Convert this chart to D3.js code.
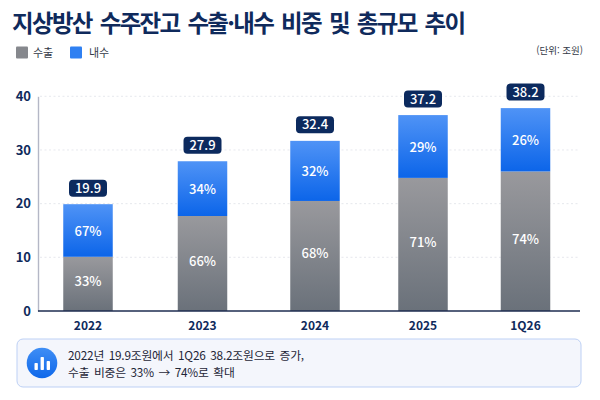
<!DOCTYPE html>
<html lang="ko"><head><meta charset="utf-8">
<script src="https://cdn.jsdelivr.net/npm/d3@7"></script>
<style>html,body{margin:0;padding:0;background:#fff}svg{display:block}text{font-family:"Noto Sans CJK KR","Noto Sans",sans-serif}</style>
</head><body><svg id="c" width="600" height="400"></svg>
<script>
const categories=["2022","2023","2024","2025","1Q26"];
const exportValues=[10.1,17.7,20.5,24.8,26.0];
const domesticValues=[9.8,10.2,11.2,11.7,11.8];
const totalLabels=["19.9","27.9","32.4","37.2","38.2"];
const exportShares=["33%","66%","68%","71%","74%"];
const domesticShares=["67%","34%","32%","29%","26%"];
const yTicks=[0,10,20,30,40];
const seriesNames=["수출","내수"];
const titleText="지상방산 수주잔고 수출·내수 비중 및 총규모 추이";
const unitText="(단위: 조원)";
const noteLines=["2022년 19.9조원에서 1Q26 38.2조원으로 증가,","수출 비중은 33% → 74%로 확대"];
const barCenters=[88,202.5,315,423,525.5];

const navy="#0f2a5c";
const svg=d3.select("#c");
const defs=svg.append("defs");
function grad(id,a,b){const g=defs.append("linearGradient").attr("id",id).attr("x1",0).attr("y1",0).attr("x2",0).attr("y2",1);
 g.append("stop").attr("offset",0).attr("stop-color",a);g.append("stop").attr("offset",1).attr("stop-color",b);}
grad("gBlue","#4f93f6","#0c65e9");grad("gGray","#99999d","#6a717a");grad("gIcon","#3f8ef5","#0f68ea");

const x=d3.scaleOrdinal().domain(categories).range(barCenters);
const y=d3.scaleLinear().domain([0,40]).range([311,96.3]);
const barW=49.5;

svg.append("text").attr("x",12).attr("y",32).attr("font-size",23.5).attr("font-weight",700).attr("fill",navy)
 .attr("letter-spacing",-1.67).attr("word-spacing",3).text(titleText);

const legend=[[16,"#86888d",33],[70,"#2f80f2",89]];
legend.forEach((l,i)=>{
 svg.append("rect").attr("x",l[0]).attr("y",46.5).attr("width",12).attr("height",12).attr("rx",1).attr("fill",l[1]);
 svg.append("text").attr("x",l[2]).attr("y",57).attr("font-size",11).attr("fill","#333a48").text(seriesNames[i]);
});
svg.append("text").attr("x",583).attr("y",54).attr("text-anchor","end").attr("font-size",9.5).attr("fill","#333a48").text(unitText);

// grid
svg.append("g").selectAll("line").data(yTicks.filter(d=>d>0)).join("line")
 .attr("x1",40).attr("x2",580).attr("y1",d=>y(d)).attr("y2",d=>y(d))
 .attr("stroke","#dfe2e8").attr("stroke-width",.8).attr("stroke-dasharray","2 2.5");

// y axis
const yAxis=svg.append("g").attr("transform","translate(38,0)").call(d3.axisLeft(y).tickValues(yTicks).tickSize(0).tickPadding(8));
yAxis.select(".domain").attr("stroke","#b4b7c6").attr("stroke-width",1.4);
yAxis.selectAll("text").attr("font-size",13).attr("font-weight",700).attr("fill",navy).attr("x",-7);

const bars=svg.append("g");
bars.selectAll(".e").data(categories).join("rect").attr("class","e")
 .attr("x",d=>x(d)-barW/2).attr("width",barW)
 .attr("y",(d,i)=>y(exportValues[i])).attr("height",(d,i)=>y(0)-y(exportValues[i])).attr("fill","url(#gGray)");
bars.selectAll(".d").data(categories).join("rect").attr("class","d")
 .attr("x",d=>x(d)-barW/2).attr("width",barW)
 .attr("y",(d,i)=>y(exportValues[i]+domesticValues[i])).attr("height",(d,i)=>y(exportValues[i])-y(exportValues[i]+domesticValues[i])).attr("fill","url(#gBlue)");

const lab=svg.append("g").attr("text-anchor","middle").attr("font-size",13).attr("font-weight",500).attr("fill","#fff");
lab.selectAll(".el").data(categories).join("text").attr("class","el").attr("x",d=>x(d))
 .attr("y",(d,i)=>(y(0)+y(exportValues[i]))/2+2.5).text((d,i)=>exportShares[i]);
lab.selectAll(".dl").data(categories).join("text").attr("class","dl").attr("x",d=>x(d))
 .attr("y",(d,i)=>(y(exportValues[i])+y(exportValues[i]+domesticValues[i]))/2+5.3).text((d,i)=>domesticShares[i]);

// total pills
const pills=svg.append("g").selectAll("g").data(categories).join("g")
 .attr("transform",(d,i)=>`translate(${x(d)},${y(exportValues[i]+domesticValues[i])-16})`);
pills.append("rect").attr("x",-19).attr("y",-8.5).attr("width",38).attr("height",17).attr("rx",4).attr("fill","#0c2a5e");
pills.append("text").attr("text-anchor","middle").attr("y",4.6).attr("font-size",13).attr("font-weight",500).attr("fill","#fff").text((d,i)=>totalLabels[i]);

// x axis
svg.append("line").attr("x1",38).attr("x2",580).attr("y1",311).attr("y2",311).attr("stroke","#1e2c50").attr("stroke-width",1.3);
svg.append("g").selectAll("text").data(categories).join("text").attr("x",d=>x(d)).attr("y",329.5)
 .attr("text-anchor","middle").attr("font-size",12).attr("font-weight",700).attr("fill",navy).text(d=>d);

// note panel
svg.append("rect").attr("x",17).attr("y",339).attr("width",564).attr("height",48).attr("rx",6)
 .attr("fill","#f4f6fc").attr("stroke","#bdd0f5").attr("stroke-width",1);
svg.append("circle").attr("cx",42).attr("cy",363).attr("r",15.3).attr("fill","url(#gIcon)");
const iconScale=d3.scaleBand().domain([0,1,2]).range([34.5,50]).paddingInner(.45);
const iconHeights=[7,13,9];
svg.append("g").selectAll("rect").data(iconHeights).join("rect")
 .attr("x",(d,i)=>iconScale(i)).attr("width",iconScale.bandwidth()).attr("y",d=>370-d).attr("height",d=>d).attr("rx",.8).attr("fill","#fff");
svg.append("g").selectAll("text").data(noteLines).join("text").attr("x",68).attr("y",(d,i)=>i?377:359.5)
 .attr("font-size",11.8).attr("word-spacing",1.5).attr("letter-spacing",-0.2).attr("fill","#1f2738").text(d=>d);
</script></body></html>
